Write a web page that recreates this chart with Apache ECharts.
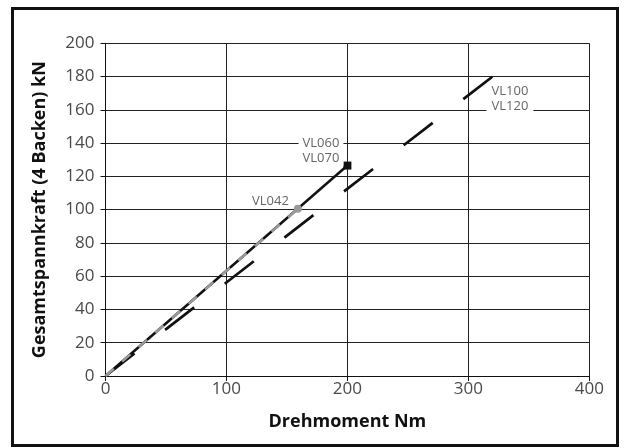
<!DOCTYPE html>
<html>
<head>
<meta charset="utf-8">
<script src="https://cdn.jsdelivr.net/npm/echarts@6/dist/echarts.min.js"></script>
<style>
  html, body { margin: 0; padding: 0; background: #fff; }
  #frame { position: absolute; left: 11px; top: 7px; width: 602px; height: 434px; border: 3px solid #111; }
  #chart { position: absolute; left: 0; top: 0; width: 624px; height: 448px; }
</style>
</head>
<body>
<div id="frame"></div>
<div id="chart"></div>
<script>
// Data (Drehmoment Nm -> Gesamtspannkraft kN)
const vl042Torque = [0, 159];
const vl042Force  = [0, 100.5];
const vl060Torque = [0, 200];
const vl060Force  = [0, 126.5];
const vl100Torque = [0, 320.5];
const vl100Force  = [0, 180.3];
const labelVL042 = 'VL042';
const labelVL060 = 'VL060\nVL070';
const labelVL100 = 'VL100\nVL120';
const xTicks = [0, 100, 200, 300, 400];
const yTicks = [0, 20, 40, 60, 80, 100, 120, 140, 160, 180, 200];

const pts = (xs, ys) => xs.map((x, i) => [x, ys[i]]);

const font = '"Open Sans", "DejaVu Sans", sans-serif';
const labelStyle = { color: '#666', fontSize: 13, fontFamily: font, lineHeight: 15, backgroundColor: '#fff' };

const chart = echarts.init(document.getElementById('chart'), null, { renderer: 'canvas' });
chart.setOption({
  animation: false,
  grid: { left: 105.5, right: 34.7, top: 43.3, bottom: 72, containLabel: false },
  xAxis: {
    type: 'value', min: xTicks[0], max: xTicks[xTicks.length - 1], interval: 100,
    name: 'Drehmoment Nm', nameLocation: 'middle', nameGap: 37,
    nameTextStyle: { fontFamily: font, fontWeight: 'bold', fontSize: 18, color: '#111' },
    axisLine: { show: true, lineStyle: { color: '#111', width: 1 } },
    axisTick: { show: true, length: 5, lineStyle: { color: '#111' } },
    axisLabel: { fontFamily: font, fontSize: 17, color: '#4a4a4a', margin: 5 },
    splitLine: { show: true, lineStyle: { color: '#222', width: 1 } }
  },
  yAxis: {
    type: 'value', min: yTicks[0], max: yTicks[yTicks.length - 1], interval: 20,
    name: 'Gesamtspannkraft (4 Backen) kN', nameLocation: 'middle', nameGap: 57,
    nameTextStyle: { fontFamily: font, fontWeight: 'bold', fontSize: 18, color: '#111' },
    axisLine: { show: true, lineStyle: { color: '#111', width: 1 } },
    axisTick: { show: true, length: 5, lineStyle: { color: '#111' } },
    axisLabel: { fontFamily: font, fontSize: 17, color: '#4a4a4a', margin: 11 },
    splitLine: { show: true, lineStyle: { color: '#222', width: 1 } }
  },
  series: [
    {
      name: 'VL100 / VL120', type: 'line', z: 2,
      data: pts(vl100Torque, vl100Force).map((p, i, a) => i === a.length - 1 ? {
        value: p, symbol: 'circle', symbolSize: 0,
        label: { show: true, position: 'right', distance: 0, offset: [-6.6, 23], formatter: labelVL100, padding: [0, 5], ...labelStyle }
      } : { value: p, symbol: 'none' }),
      lineStyle: { color: '#111', width: 2.7, type: [36.7, 38.7], cap: 'butt' },
      itemStyle: { color: '#111' }
    },
    {
      name: 'VL060 / VL070', type: 'line', z: 3,
      data: pts(vl060Torque, vl060Force).map((p, i, a) => i === a.length - 1 ? {
        value: p, symbol: 'rect', symbolSize: 8,
        label: { show: true, position: 'left', distance: 0, offset: [0, -15], formatter: labelVL060, padding: [0, 4], ...labelStyle }
      } : { value: p, symbol: 'none' }),
      lineStyle: { color: '#111', width: 2.5 },
      itemStyle: { color: '#111' }
    },
    {
      name: 'VL042', type: 'line', z: 4,
      data: pts(vl042Torque, vl042Force).map((p, i, a) => i === a.length - 1 ? {
        value: p, symbol: 'circle', symbolSize: 8,
        label: { show: true, position: 'left', distance: 5, offset: [0, -8], formatter: labelVL042, padding: [0, 0], ...labelStyle, backgroundColor: 'transparent' }
      } : { value: p, symbol: 'none' }),
      lineStyle: { color: '#9a9a9a', width: 2.5, type: [11, 11], cap: 'butt' },
      itemStyle: { color: '#9a9a9a' }
    }
  ]
});
</script>
</body>
</html>
